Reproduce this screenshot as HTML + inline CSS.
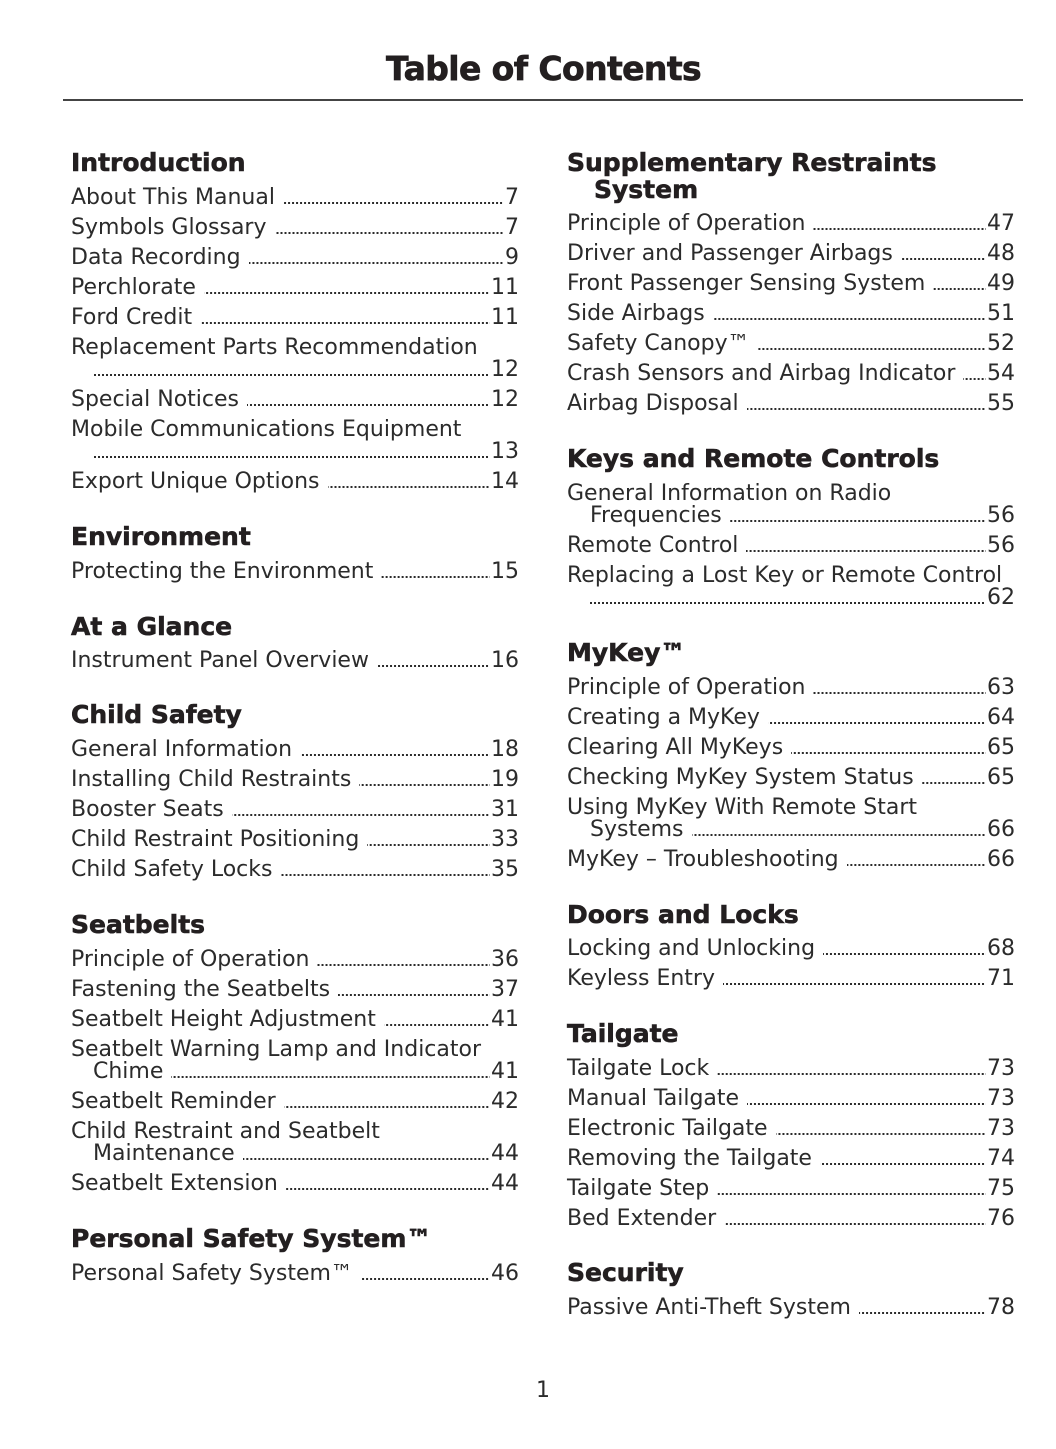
<!DOCTYPE html>
<html>
<head>
<meta charset="utf-8">
<style>
  html, body { margin:0; padding:0; }
  body { width:1056px; height:1449px; background:#fff; position:relative; overflow:hidden;
         font-family:"DejaVu Sans","Liberation Sans",sans-serif; color:#2b2b2b; }
  .title { position:absolute; left:0; width:1087px; top:48.6px; text-align:center;
           font-weight:bold; font-size:33px; line-height:40px; letter-spacing:-0.6px; color:#231f20; -webkit-text-stroke:0.7px #231f20; }
  .rule { position:absolute; left:63px; top:99px; width:960px; height:2px; background:#444; }
  .h { position:absolute; font-weight:bold; font-size:25px; line-height:30px; color:#231f20; white-space:nowrap; -webkit-text-stroke:0.6px #231f20; }
  .e { position:absolute; display:flex; align-items:baseline; font-size:22px; line-height:30px; white-space:nowrap; margin-top:2px; }
  .e .t { flex:none; }
  .e .d { flex:1 1 auto; height:2px; margin-left:8px; margin-right:1px;
          background-image:linear-gradient(to right, #2b2b2b 0, #2b2b2b 2px, rgba(255,255,255,0) 2px);
          background-size:4px 2px; background-repeat:repeat-x; background-position:right bottom; }
  .e .d.o { margin-left:0; }
  .e .n { flex:none; }
  .L { left:71px; width:448px; }
  .Li { left:93px; width:426px; }
  .R { left:567px; width:448px; }
  .Ri { left:590px; width:425px; }
  .pg { position:absolute; left:0; width:1086px; text-align:center; top:1376.4px; font-size:22px; line-height:30px; }
</style>
</head>
<body>
<div class="title">Table of Contents</div>
<div class="rule"></div>

<!-- LEFT COLUMN -->
<div class="h" style="left:71px;top:148.35px">Introduction</div>
<div class="e L" style="top:181.4px"><span class="t">About This Manual</span><span class="d"></span><span class="n">7</span></div>
<div class="e L" style="top:211.4px"><span class="t">Symbols Glossary</span><span class="d"></span><span class="n">7</span></div>
<div class="e L" style="top:241.4px"><span class="t">Data Recording</span><span class="d"></span><span class="n">9</span></div>
<div class="e L" style="top:271.4px"><span class="t">Perchlorate</span><span class="d"></span><span class="n">11</span></div>
<div class="e L" style="top:301.4px"><span class="t">Ford Credit</span><span class="d"></span><span class="n">11</span></div>
<div class="e L" style="top:331.4px"><span class="t">Replacement Parts Recommendation</span></div>
<div class="e Li" style="top:353.4px"><span class="d o"></span><span class="n">12</span></div>
<div class="e L" style="top:383.4px"><span class="t">Special Notices</span><span class="d"></span><span class="n">12</span></div>
<div class="e L" style="top:413.4px"><span class="t">Mobile Communications Equipment</span></div>
<div class="e Li" style="top:435.4px"><span class="d o"></span><span class="n">13</span></div>
<div class="e L" style="top:465.4px"><span class="t">Export Unique Options</span><span class="d"></span><span class="n">14</span></div>

<div class="h" style="left:71px;top:522.35px">Environment</div>
<div class="e L" style="top:555.4px"><span class="t">Protecting the Environment</span><span class="d"></span><span class="n">15</span></div>

<div class="h" style="left:71px;top:612.35px">At a Glance</div>
<div class="e L" style="top:644.4px"><span class="t">Instrument Panel Overview</span><span class="d"></span><span class="n">16</span></div>

<div class="h" style="left:71px;top:700.35px">Child Safety</div>
<div class="e L" style="top:733.4px"><span class="t">General Information</span><span class="d"></span><span class="n">18</span></div>
<div class="e L" style="top:763.4px"><span class="t">Installing Child Restraints</span><span class="d"></span><span class="n">19</span></div>
<div class="e L" style="top:793.4px"><span class="t">Booster Seats</span><span class="d"></span><span class="n">31</span></div>
<div class="e L" style="top:823.4px"><span class="t">Child Restraint Positioning</span><span class="d"></span><span class="n">33</span></div>
<div class="e L" style="top:853.4px"><span class="t">Child Safety Locks</span><span class="d"></span><span class="n">35</span></div>

<div class="h" style="left:71px;top:910.35px">Seatbelts</div>
<div class="e L" style="top:943.4px"><span class="t">Principle of Operation</span><span class="d"></span><span class="n">36</span></div>
<div class="e L" style="top:973.4px"><span class="t">Fastening the Seatbelts</span><span class="d"></span><span class="n">37</span></div>
<div class="e L" style="top:1003.4px"><span class="t">Seatbelt Height Adjustment</span><span class="d"></span><span class="n">41</span></div>
<div class="e L" style="top:1033.4px"><span class="t">Seatbelt Warning Lamp and Indicator</span></div>
<div class="e Li" style="top:1055.4px"><span class="t">Chime</span><span class="d"></span><span class="n">41</span></div>
<div class="e L" style="top:1085.4px"><span class="t">Seatbelt Reminder</span><span class="d"></span><span class="n">42</span></div>
<div class="e L" style="top:1115.4px"><span class="t">Child Restraint and Seatbelt</span></div>
<div class="e Li" style="top:1137.4px"><span class="t">Maintenance</span><span class="d"></span><span class="n">44</span></div>
<div class="e L" style="top:1167.4px"><span class="t">Seatbelt Extension</span><span class="d"></span><span class="n">44</span></div>

<div class="h" style="left:71px;top:1224.35px">Personal Safety System™</div>
<div class="e L" style="top:1257.4px"><span class="t">Personal Safety System™</span><span class="d"></span><span class="n">46</span></div>

<!-- RIGHT COLUMN -->
<div class="h" style="left:567px;top:148.35px">Supplementary Restraints</div>
<div class="h" style="left:594px;top:175.35px">System</div>
<div class="e R" style="top:207.4px"><span class="t">Principle of Operation</span><span class="d"></span><span class="n">47</span></div>
<div class="e R" style="top:237.4px"><span class="t">Driver and Passenger Airbags</span><span class="d"></span><span class="n">48</span></div>
<div class="e R" style="top:267.4px"><span class="t">Front Passenger Sensing System</span><span class="d"></span><span class="n">49</span></div>
<div class="e R" style="top:297.4px"><span class="t">Side Airbags</span><span class="d"></span><span class="n">51</span></div>
<div class="e R" style="top:327.4px"><span class="t">Safety Canopy™</span><span class="d"></span><span class="n">52</span></div>
<div class="e R" style="top:357.4px"><span class="t">Crash Sensors and Airbag Indicator</span><span class="d"></span><span class="n">54</span></div>
<div class="e R" style="top:387.4px"><span class="t">Airbag Disposal</span><span class="d"></span><span class="n">55</span></div>

<div class="h" style="left:567px;top:444.35px">Keys and Remote Controls</div>
<div class="e R" style="top:477.4px"><span class="t">General Information on Radio</span></div>
<div class="e Ri" style="top:499.4px"><span class="t">Frequencies</span><span class="d"></span><span class="n">56</span></div>
<div class="e R" style="top:529.4px"><span class="t">Remote Control</span><span class="d"></span><span class="n">56</span></div>
<div class="e R" style="top:559.4px"><span class="t">Replacing a Lost Key or Remote Control</span></div>
<div class="e Ri" style="top:581.4px"><span class="d o"></span><span class="n">62</span></div>

<div class="h" style="left:567px;top:638.35px">MyKey™</div>
<div class="e R" style="top:671.4px"><span class="t">Principle of Operation</span><span class="d"></span><span class="n">63</span></div>
<div class="e R" style="top:701.4px"><span class="t">Creating a MyKey</span><span class="d"></span><span class="n">64</span></div>
<div class="e R" style="top:731.4px"><span class="t">Clearing All MyKeys</span><span class="d"></span><span class="n">65</span></div>
<div class="e R" style="top:761.4px"><span class="t">Checking MyKey System Status</span><span class="d"></span><span class="n">65</span></div>
<div class="e R" style="top:791.4px"><span class="t">Using MyKey With Remote Start</span></div>
<div class="e Ri" style="top:813.4px"><span class="t">Systems</span><span class="d"></span><span class="n">66</span></div>
<div class="e R" style="top:843.4px"><span class="t">MyKey – Troubleshooting</span><span class="d"></span><span class="n">66</span></div>

<div class="h" style="left:567px;top:900.35px">Doors and Locks</div>
<div class="e R" style="top:932.4px"><span class="t">Locking and Unlocking</span><span class="d"></span><span class="n">68</span></div>
<div class="e R" style="top:962.4px"><span class="t">Keyless Entry</span><span class="d"></span><span class="n">71</span></div>

<div class="h" style="left:567px;top:1019.35px">Tailgate</div>
<div class="e R" style="top:1052.4px"><span class="t">Tailgate Lock</span><span class="d"></span><span class="n">73</span></div>
<div class="e R" style="top:1082.4px"><span class="t">Manual Tailgate</span><span class="d"></span><span class="n">73</span></div>
<div class="e R" style="top:1112.4px"><span class="t">Electronic Tailgate</span><span class="d"></span><span class="n">73</span></div>
<div class="e R" style="top:1142.4px"><span class="t">Removing the Tailgate</span><span class="d"></span><span class="n">74</span></div>
<div class="e R" style="top:1172.4px"><span class="t">Tailgate Step</span><span class="d"></span><span class="n">75</span></div>
<div class="e R" style="top:1202.4px"><span class="t">Bed Extender</span><span class="d"></span><span class="n">76</span></div>

<div class="h" style="left:567px;top:1258.35px">Security</div>
<div class="e R" style="top:1291.4px"><span class="t">Passive Anti-Theft System</span><span class="d"></span><span class="n">78</span></div>

<div class="pg">1</div>
</body>
</html>
